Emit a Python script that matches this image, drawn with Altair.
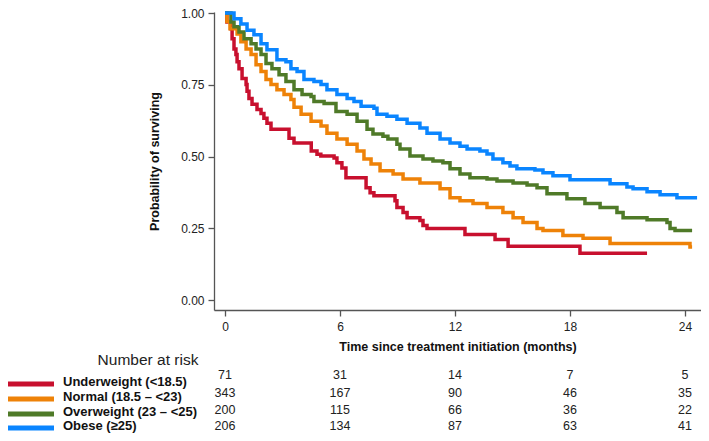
import altair as alt
import pandas as pd

groups = ["Underweight (<18.5)", "Normal (18.5 – <23)", "Overweight (23 – <25)", "Obese (≥25)"]
colors = ["#C8102E", "#EE8208", "#4F7A28", "#0A85FF"]

# Kaplan-Meier step points (months, survival)
uw_t = [0, 0.10, 0.31, 0.37, 0.47, 0.57, 0.63, 0.73, 0.89, 1.10, 1.15, 1.25, 1.41, 1.67, 1.88, 2.03, 2.19, 2.40,
        3.34, 3.60, 4.50, 4.80, 5.00, 5.69, 5.84, 6.10, 6.31, 7.36, 7.57, 7.77, 8.87, 8.97, 9.29, 9.50, 10.17,
        10.33, 10.54, 12.52, 14.09, 14.77, 18.52, 22.02]
uw_s = [1.0, 0.969, 0.945, 0.91, 0.875, 0.855, 0.83, 0.806, 0.772, 0.751, 0.727, 0.702, 0.682, 0.664, 0.65, 0.633,
        0.616, 0.595, 0.564, 0.547, 0.519, 0.508, 0.502, 0.495, 0.478, 0.46, 0.426, 0.391, 0.374, 0.363, 0.346,
        0.322, 0.305, 0.287, 0.277, 0.26, 0.249, 0.228, 0.211, 0.187, 0.163, 0.163]

nm_t = [0, 0.10, 0.26, 0.63, 0.83, 1.10, 1.36, 1.62, 1.88, 2.14, 2.40, 2.71, 3.08, 3.44, 3.60, 3.97, 4.49, 5.01,
        5.32, 5.84, 6.37, 6.89, 7.25, 7.62, 8.09, 8.77, 9.29, 10.17, 11.22, 11.74, 12.26, 12.94, 13.67, 14.50,
        15.03, 15.55, 16.28, 16.59, 17.63, 18.68, 20.09, 24.26, 24.37]
nm_s = [1.0, 0.97, 0.945, 0.927, 0.90, 0.875, 0.855, 0.82, 0.796, 0.768, 0.751, 0.733, 0.716, 0.699, 0.672, 0.647,
        0.623, 0.606, 0.581, 0.561, 0.543, 0.519, 0.491, 0.474, 0.45, 0.439, 0.422, 0.408, 0.388, 0.356, 0.346,
        0.336, 0.322, 0.305, 0.287, 0.27, 0.249, 0.242, 0.225, 0.215, 0.197, 0.185, 0.185]

ow_t = [0, 0.31, 0.47, 0.73, 0.99, 1.36, 1.62, 1.88, 2.14, 2.45, 2.82, 3.18, 3.60, 4.02, 4.49, 4.64, 5.17, 5.79,
        6.37, 6.89, 7.41, 7.72, 8.24, 8.50, 8.97, 9.13, 9.65, 10.33, 10.85, 11.37, 11.74, 12.26, 12.78, 13.67,
        14.19, 15.03, 15.76, 16.28, 16.80, 17.84, 18.78, 19.57, 20.45, 20.77, 22.02, 23.06, 23.22, 23.48, 24.37]
ow_s = [1.0, 0.969, 0.952, 0.934, 0.91, 0.893, 0.875, 0.855, 0.824, 0.806, 0.785, 0.761, 0.733, 0.716, 0.709, 0.692,
        0.685, 0.657, 0.647, 0.623, 0.595, 0.578, 0.571, 0.561, 0.543, 0.526, 0.502, 0.491, 0.484, 0.478, 0.457,
        0.439, 0.426, 0.422, 0.415, 0.408, 0.401, 0.391, 0.37, 0.353, 0.336, 0.322, 0.305, 0.287, 0.28, 0.27,
        0.249, 0.242, 0.242]

ob_t = [0, 0.47, 0.83, 1.15, 1.51, 1.88, 2.19, 2.71, 3.18, 3.44, 3.76, 4.12, 4.64, 5.01, 5.32, 5.84, 6.37, 6.73,
        7.10, 7.77, 7.93, 8.45, 8.97, 9.50, 10.17, 10.54, 11.22, 11.74, 12.26, 12.63, 13.30, 13.67, 13.98, 14.50,
        14.87, 15.23, 16.17, 16.59, 17.11, 18.0, 20.09, 20.97, 21.29, 22.02, 22.70, 23.58, 24.63]
ob_s = [1.0, 0.98, 0.962, 0.94, 0.924, 0.893, 0.872, 0.837, 0.83, 0.806, 0.796, 0.768, 0.761, 0.751, 0.733, 0.716,
        0.702, 0.692, 0.675, 0.668, 0.647, 0.64, 0.63, 0.616, 0.599, 0.581, 0.561, 0.547, 0.536, 0.526, 0.519,
        0.509, 0.491, 0.478, 0.467, 0.457, 0.453, 0.443, 0.433, 0.419, 0.405, 0.394, 0.388, 0.377, 0.367, 0.356,
        0.356]

risk_times = [0, 6, 12, 18, 24]
risk_uw = [71, 31, 14, 7, 5]
risk_nm = [343, 167, 90, 46, 35]
risk_ow = [200, 115, 66, 36, 22]
risk_ob = [206, 134, 87, 63, 41]

x_ticks = [0, 6, 12, 18, 24]
y_ticks = [0.0, 0.25, 0.5, 0.75, 1.0]

series = [(uw_t, uw_s), (nm_t, nm_s), (ow_t, ow_s), (ob_t, ob_s)]
risks = [risk_uw, risk_nm, risk_ow, risk_ob]

rows = []
for g, (ts, ss) in zip(groups, series):
    for t, s in zip(ts, ss):
        rows.append({"group": g, "time": t, "surv": s})
curves = pd.DataFrame(rows)

FONT = "Arial, Liberation Sans, sans-serif"

xscale = alt.Scale(domain=[-0.574, 24.835], nice=False, zero=False)
yscale = alt.Scale(domain=[-0.0348, 1.0035], nice=False, zero=False)

lines = alt.Chart(curves).mark_line(interpolate="step-after", strokeWidth=3.5, strokeJoin="miter").encode(
    x=alt.X("time:Q", scale=xscale,
            axis=alt.Axis(values=x_ticks, title="Time since treatment initiation (months)", grid=False,
                          tickSize=6, labelPadding=5, titlePadding=8, format="d")),
    y=alt.Y("surv:Q", scale=yscale,
            axis=alt.Axis(values=y_ticks, title="Probability of surviving", grid=False, format=".2f",
                          tickSize=6, labelPadding=4, titlePadding=19)),
    color=alt.Color("group:N", scale=alt.Scale(domain=groups, range=colors), legend=None),
    detail="group:N",
)

layers = [lines]

# row positions (pixels relative to the plot's top edge)
num_y = [363, 381, 398, 414]
leg_line_y = [372, 387, 402, 416]
leg_text_y = [370, 385, 400, 414]

for i, g in enumerate(groups):
    df = pd.DataFrame({"time": risk_times, "n": risks[i]})
    layers.append(alt.Chart(df).mark_text(fontSize=12.5, font=FONT, color="#222", baseline="middle").encode(
        x=alt.X("time:Q", scale=xscale), y=alt.value(num_y[i]), text="n:Q"))
    ld = pd.DataFrame({"group": [g]})
    layers.append(alt.Chart(ld).mark_rule(strokeWidth=5, color=colors[i]).encode(
        x=alt.value(-206), x2=alt.value(-160), y=alt.value(leg_line_y[i])))
    layers.append(alt.Chart(ld).mark_text(fontSize=13, font=FONT, fontWeight="bold", color="#111",
                                          align="left", baseline="middle").encode(
        x=alt.value(-151), y=alt.value(leg_text_y[i]), text="group:N"))

title_df = pd.DataFrame({"label": ["Number at risk"]})
layers.append(alt.Chart(title_df).mark_text(fontSize=15.5, font=FONT, color="#222", align="center",
                                            baseline="middle").encode(
    x=alt.value(-66), y=alt.value(348), text="label:N"))

chart = alt.layer(*layers).properties(
    width=487, height=298,
    autosize=alt.AutoSizeParams(type="none"),
    padding={"left": 206, "top": 4, "right": 0, "bottom": 123},
).configure_view(stroke=None).configure_axis(
    labelFont=FONT, titleFont=FONT, labelFontSize=12, titleFontSize=12.5,
    labelColor="#222", titleColor="#111", titleFontWeight="bold",
    domainColor="#555", tickColor="#555", domainWidth=1.3, tickWidth=1.3,
)

chart.save("out.html", embed_options={"renderer": "svg", "actions": False})
